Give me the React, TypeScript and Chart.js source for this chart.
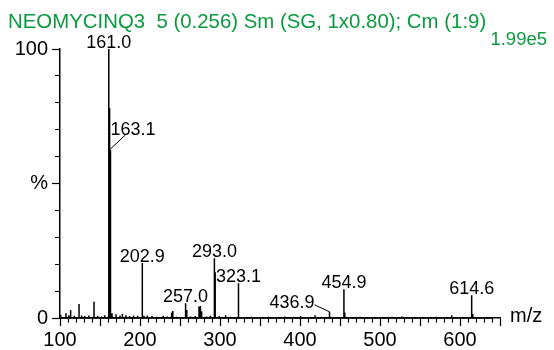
import React, { useEffect, useRef } from 'react';
import { Chart, registerables } from 'chart.js';

Chart.register(...registerables);

const FONT = "'Liberation Sans', Arial, sans-serif";

// m/z of each stick and its relative intensity (%)
const peakMz = [
  100.9, 107.5, 111.0, 113.3, 118.0, 123.8, 127.0, 131.0, 136.0, 142.5,
  147.0, 152.0, 156.0, 161.0, 162.0, 163.1, 165.0, 170.0, 175.0, 178.0,
  182.5, 187.0, 192.0, 197.0, 202.9, 205.0, 209.0, 215.0, 221.0, 229.0,
  234.0, 239.5, 241.0, 246.0, 257.0, 258.5, 263.0, 269.0, 273.8, 275.5,
  277.0, 283.0, 288.0, 293.0, 294.0, 299.0, 307.0, 313.0, 323.1, 331.0,
  339.0, 350.0, 361.0, 371.0, 381.0, 392.0, 400.8, 409.0, 418.8, 427.0,
  436.9, 446.0, 454.9, 456.0, 463.0, 475.0, 489.0, 502.0, 515.0, 527.5,
  541.0, 556.0, 570.0, 582.0, 589.6, 601.0, 614.6, 616.0, 627.0, 640.0,
];
const peakIntensity = [
  1.2, 1.8, 1.0, 3.0, 0.8, 5.2, 0.9, 0.7, 0.9, 6.0,
  0.8, 0.6, 1.0, 100, 78, 62.5, 1.8, 1.4, 0.9, 1.5,
  1.0, 0.7, 0.9, 0.8, 20.4, 0.8, 0.9, 0.7, 0.5, 0.8,
  0.6, 2.0, 2.6, 0.5, 5.5, 3.0, 0.6, 0.7, 4.3, 4.5,
  2.5, 0.6, 0.8, 22.2, 17.0, 0.7, 1.0, 0.5, 12.9, 0.4,
  0.5, 0.4, 0.5, 0.4, 0.6, 0.5, 0.7, 0.4, 1.0, 0.5,
  2.3, 0.4, 10.7, 2.0, 0.4, 0.5, 0.4, 0.4, 0.5, 0.6,
  0.4, 0.4, 0.5, 0.4, 1.0, 0.4, 8.5, 1.5, 0.4, 0.4,
];

// annotated peaks and where their label sits
const labelledMz = [161.0, 163.1, 202.9, 257.0, 293.0, 323.1, 436.9, 454.9, 614.6];
const labelSide = ['above', 'right', 'above', 'above', 'above', 'above', 'left', 'above', 'above'];

const xTickLabels = [100, 200, 300, 400, 500, 600];
const yTickValues = [0, 50, 100];
const yTickTexts = ['0', '%', '100'];

const titleText = 'NEOMYCINQ3  5 (0.256) Sm (SG, 1x0.80); Cm (1:9)';
const scaleText = '1.99e5';
const xAxisText = 'm/z';

const GREEN = '#0b9a3f';

const textPlugin = {
  id: 'spectrumText',
  afterDraw(chart: any) {
    const { ctx, scales } = chart;
    const x = scales.x;
    const y = scales.y;
    ctx.save();
    // title + scale factor
    ctx.fillStyle = GREEN;
    ctx.textBaseline = 'alphabetic';
    ctx.font = `20.4px ${FONT}`;
    ctx.textAlign = 'left';
    ctx.fillText(titleText, 8, 28);
    ctx.font = `18.5px ${FONT}`;
    ctx.textAlign = 'right';
    ctx.fillText(scaleText, 547, 45);
    // x axis title
    ctx.fillStyle = '#000';
    ctx.font = `20px ${FONT}`;
    ctx.textAlign = 'left';
    ctx.fillText(xAxisText, x.right + 10, y.bottom + 4);
    // peak labels
    ctx.font = `18px ${FONT}`;
    ctx.strokeStyle = '#000';
    ctx.lineWidth = 1;
    labelledMz.forEach((mz, i) => {
      const idx = peakMz.indexOf(mz);
      const px = x.getPixelForValue(mz);
      const py = y.getPixelForValue(peakIntensity[idx]);
      const text = mz.toFixed(1);
      const side = labelSide[i];
      if (side === 'right') {
        ctx.textAlign = 'left';
        ctx.fillText(text, px, py - 15);
        ctx.beginPath();
        ctx.moveTo(px + 15, py - 15);
        ctx.lineTo(px - 1, py);
        ctx.stroke();
      } else if (side === 'left') {
        ctx.textAlign = 'right';
        ctx.fillText(text, px - 15, py - 4);
        ctx.beginPath();
        ctx.moveTo(px - 15, py - 7);
        ctx.lineTo(px, py);
        ctx.stroke();
      } else {
        ctx.textAlign = 'center';
        ctx.fillText(text, px, py - 1);
      }
    });
    ctx.restore();
  },
};

export default function App() {
  const canvasRef = useRef<HTMLCanvasElement | null>(null);

  useEffect(() => {
    if (!canvasRef.current) return;
    const sticks: { x: number; y: number }[] = [];
    peakMz.forEach((mz, i) => {
      sticks.push({ x: mz, y: 0 });
      sticks.push({ x: mz, y: peakIntensity[i] });
      sticks.push({ x: mz, y: 0 });
    });

    const chart = new Chart(canvasRef.current, {
      type: 'line',
      data: {
        datasets: [
          {
            data: sticks,
            borderColor: '#000',
            borderWidth: 1.5,
            pointRadius: 0,
            tension: 0,
            fill: false,
            clip: false as any,
          },
        ],
      },
      options: {
        responsive: false,
        animation: false,
        devicePixelRatio: 1,
        layout: { padding: { left: 8, top: 49, right: 54, bottom: 0 } },
        plugins: {
          legend: { display: false },
          tooltip: { enabled: false },
          title: { display: false },
        },
        scales: {
          x: {
            type: 'linear',
            min: 100,
            max: 650,
            position: 'bottom',
            afterFit: (s: any) => {
              s.height = 32;
            },
            ticks: {
              stepSize: 10,
              autoSkip: false,
              maxRotation: 0,
              minRotation: 0,
              padding: 2,
              color: '#000',
              font: { family: FONT, size: 20 },
              callback: (v: any) => (xTickLabels.includes(Number(v)) ? String(v) : ''),
            },
            grid: {
              drawOnChartArea: false,
              drawTicks: true,
              tickLength: 8,
              tickColor: '#000',
              tickWidth: 1.2,
              tickBorderDash: ((c: any) => (c.tick && c.tick.value % 50 === 0 ? [] : [4, 20])) as any,
            },
            border: { display: true, color: '#000', width: 1.5 },
          },
          y: {
            type: 'linear',
            min: 0,
            max: 100,
            position: 'left',
            afterFit: (s: any) => {
              s.width = 52;
            },
            ticks: {
              stepSize: 10,
              autoSkip: false,
              padding: 4,
              color: '#000',
              font: { family: FONT, size: 20 },
              callback: (v: any) => {
                const k = yTickValues.indexOf(Number(v));
                return k >= 0 ? yTickTexts[k] : '';
              },
            },
            grid: {
              drawOnChartArea: false,
              drawTicks: true,
              tickLength: 8,
              tickColor: '#000',
              tickWidth: 1.2,
              tickBorderDash: ((c: any) => (c.tick && c.tick.value % 50 === 0 ? [] : [0, 3, 5, 20])) as any,
            },
            border: { display: true, color: '#000', width: 1.5 },
          },
        },
      },
      plugins: [textPlugin],
    });
    return () => chart.destroy();
  }, []);

  return (
    <div style={{ position: 'fixed', left: 0, top: 0, width: 554, height: 350, background: '#fff' }}>
      <canvas ref={canvasRef} width={554} height={350} style={{ display: 'block' }} />
    </div>
  );
}
